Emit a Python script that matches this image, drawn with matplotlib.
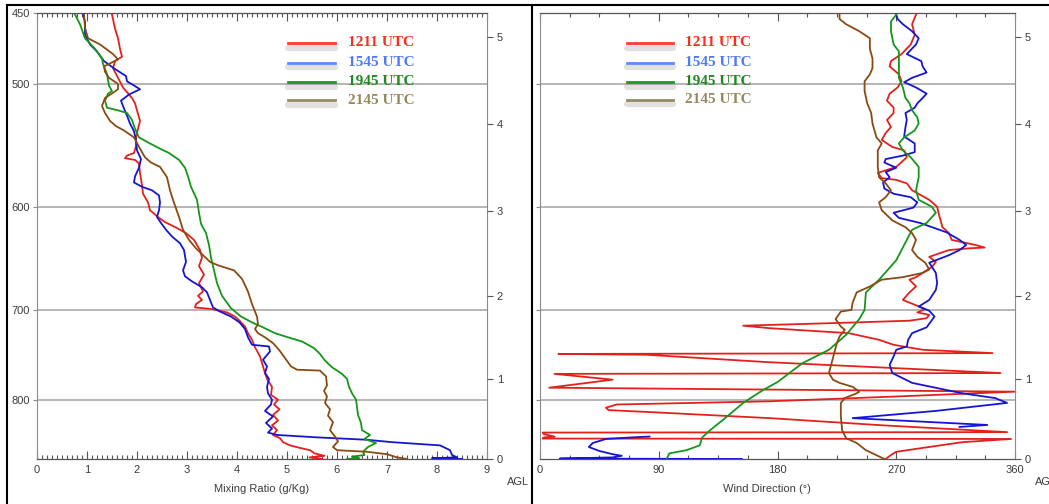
import numpy as np
import matplotlib
matplotlib.use("Agg")
import matplotlib.pyplot as plt
from matplotlib.lines import Line2D
from matplotlib.ticker import FixedLocator, MultipleLocator, NullLocator

# ---------------- data ----------------
SERIES = ["1211 UTC", "1545 UTC", "1945 UTC", "2145 UTC"]

PRESSURE_TICKS = [450, 500, 600, 700, 800]
AGL_KM = [0, 1, 2, 3, 4, 5]
AGL_HPA = [873, 775, 685, 604, 531, 466]

# Mixing ratio profiles (height km AGL, g/kg)
mr_1211_km = [0.00, 0.02, 0.04, 0.07, 0.11, 0.14, 0.17, 0.21, 0.26, 0.30, 0.36, 0.42, 0.48, 0.55, 0.62, 0.68,
              0.74, 0.80, 0.90, 1.00, 1.07, 1.15, 1.27, 1.38, 1.47, 1.55, 1.63, 1.70, 1.75, 1.80, 1.84, 1.86,
              1.90, 1.95, 2.00, 2.05, 2.15, 2.25, 2.35, 2.45, 2.54, 2.60, 2.66, 2.74, 2.80, 2.87, 2.93, 3.01,
              3.10, 3.20, 3.30, 3.44, 3.55, 3.59, 3.61, 3.64, 3.67, 3.75, 3.85, 3.95, 4.04, 4.12, 4.24, 4.30,
              4.42, 4.53, 4.64, 4.72, 4.77, 4.86, 4.98, 5.09, 5.25]
mr_1211 = [5.70, 5.45, 5.75, 5.55, 5.46, 5.25, 5.06, 4.92, 4.86, 4.72, 4.80, 4.70, 4.82, 4.72, 4.85, 4.74,
           4.82, 4.68, 4.70, 4.60, 4.56, 4.52, 4.46, 4.36, 4.30, 4.22, 4.16, 4.05, 3.96, 3.80, 3.50, 3.16,
           3.18, 3.30, 3.22, 3.32, 3.24, 3.34, 3.24, 3.30, 3.26, 3.20, 3.14, 2.98, 2.80, 2.56, 2.42, 2.26,
           2.22, 2.12, 2.10, 2.06, 2.04, 1.96, 1.76, 1.80, 1.94, 1.98, 1.98, 2.02, 2.06, 2.02, 1.96, 1.90,
           1.72, 1.62, 1.52, 1.56, 1.70, 1.66, 1.62, 1.56, 1.50]

mr_1545_km = [0.00, 0.01, 0.02, 0.05, 0.11, 0.17, 0.21, 0.24, 0.27, 0.30, 0.33, 0.38, 0.45, 0.53, 0.60, 0.68,
              0.74, 0.82, 0.90, 1.00, 1.07, 1.15, 1.23, 1.33, 1.39, 1.41, 1.50, 1.60, 1.68, 1.75, 1.81, 1.86,
              1.95, 2.04, 2.10, 2.17, 2.23, 2.30, 2.40, 2.54, 2.62, 2.70, 2.78, 2.86, 2.93, 3.01, 3.10, 3.18,
              3.24, 3.28, 3.33, 3.40, 3.50, 3.60, 3.70, 3.82, 3.92, 4.01, 4.10, 4.18, 4.27, 4.34, 4.40, 4.45,
              4.49, 4.55, 4.63, 4.72, 4.83, 4.91, 5.02, 5.17, 5.25]
mr_1545 = [8.50, 7.90, 8.40, 8.30, 8.26, 8.06, 7.10, 6.60, 5.60, 4.80, 4.62, 4.70, 4.58, 4.72, 4.56, 4.68,
           4.70, 4.62, 4.60, 4.64, 4.56, 4.60, 4.52, 4.66, 4.64, 4.30, 4.22, 4.16, 4.05, 3.88, 3.66, 3.52,
           3.46, 3.40, 3.30, 3.10, 2.96, 2.92, 2.98, 2.94, 2.86, 2.70, 2.58, 2.48, 2.40, 2.44, 2.46, 2.44,
           2.30, 2.10, 1.94, 1.96, 2.04, 2.08, 2.00, 1.98, 1.94, 1.86, 1.80, 1.74, 1.68, 1.84, 2.06, 1.92,
           1.80, 1.78, 1.56, 1.34, 1.20, 1.06, 0.96, 0.96, 0.92]

mr_1945_km = [0.00, 0.01, 0.03, 0.05, 0.09, 0.15, 0.20, 0.25, 0.30, 0.36, 0.45, 0.55, 0.65, 0.74, 0.82, 0.90,
              1.00, 1.06, 1.14, 1.22, 1.30, 1.37, 1.45, 1.50, 1.55, 1.62, 1.68, 1.75, 1.85, 2.00, 2.15, 2.30,
              2.45, 2.60, 2.74, 2.85, 2.98, 3.13, 3.28, 3.40, 3.50, 3.59, 3.67, 3.72, 3.78, 3.85, 3.95, 4.05,
              4.13, 4.16, 4.19, 4.27, 4.35, 4.38, 4.44, 4.57, 4.69, 4.75, 4.86, 4.98, 5.14, 5.25]
mr_1945 = [6.20, 6.45, 6.30, 6.55, 6.52, 6.62, 6.78, 6.55, 6.66, 6.50, 6.48, 6.42, 6.40, 6.38, 6.30, 6.24,
           6.20, 6.10, 5.90, 5.76, 5.66, 5.54, 5.30, 5.02, 4.76, 4.52, 4.30, 4.08, 3.88, 3.70, 3.60, 3.54,
           3.48, 3.44, 3.38, 3.28, 3.24, 3.20, 3.08, 3.02, 2.96, 2.84, 2.64, 2.46, 2.26, 2.04, 1.96, 1.90,
           1.80, 1.62, 1.40, 1.36, 1.42, 1.50, 1.44, 1.40, 1.32, 1.30, 1.16, 0.96, 0.86, 0.76]

mr_2145_km = [0.00, 0.02, 0.06, 0.09, 0.11, 0.15, 0.22, 0.28, 0.36, 0.46, 0.54, 0.62, 0.70, 0.78, 0.85, 0.92,
              1.03, 1.10, 1.11, 1.15, 1.25, 1.35, 1.43, 1.50, 1.55, 1.60, 1.66, 1.75, 1.90, 2.05, 2.20, 2.30,
              2.36, 2.40, 2.48, 2.56, 2.66, 2.78, 2.93, 3.13, 3.24, 3.39, 3.51, 3.56, 3.62, 3.74, 3.85, 3.93,
              3.98, 4.04, 4.13, 4.21, 4.30, 4.36, 4.40, 4.46, 4.53, 4.60, 4.66, 4.74, 4.80, 4.91, 4.98, 5.10, 5.25]
mr_2145 = [7.40, 7.20, 7.00, 6.60, 6.00, 5.92, 6.02, 5.96, 5.86, 5.92, 5.82, 5.86, 5.76, 5.80, 5.74, 5.80,
           5.78, 5.66, 5.20, 5.08, 4.96, 4.84, 4.72, 4.56, 4.42, 4.36, 4.42, 4.40, 4.30, 4.22, 4.10, 3.94,
           3.62, 3.46, 3.32, 3.18, 3.04, 2.92, 2.84, 2.72, 2.66, 2.60, 2.46, 2.28, 2.16, 2.04, 1.94, 1.74,
           1.58, 1.46, 1.36, 1.30, 1.36, 1.52, 1.62, 1.62, 1.44, 1.36, 1.34, 1.62, 1.52, 1.26, 1.02, 0.96, 0.94]

# Wind direction profiles (height km AGL, degrees)
wd_1211_km = [0.00, 0.05, 0.09, 0.15, 0.21, 0.25, 0.255, 0.27, 0.28, 0.31, 0.33, 0.335, 0.42, 0.51, 0.58, 0.61,
              0.64, 0.68, 0.72, 0.78, 0.84, 0.89, 0.99, 1.06, 1.07, 1.20, 1.29, 1.30, 1.31, 1.35, 1.41, 1.47,
              1.55, 1.61, 1.64, 1.67, 1.70, 1.73, 1.77, 1.80, 1.84, 1.95, 2.04, 2.11, 2.19, 2.22, 2.34, 2.40,
              2.46, 2.54, 2.56, 2.57, 2.60, 2.66, 2.74, 2.81, 2.98, 3.05, 3.13, 3.24, 3.32, 3.36, 3.38, 3.44,
              3.47, 3.51, 3.62, 3.70, 3.74, 3.82, 3.90, 3.97, 4.05, 4.13, 4.19, 4.27, 4.35, 4.42, 4.49, 4.57,
              4.66, 4.72, 4.80, 4.91, 5.02, 5.14, 5.25]
wd_1211 = [262, 266, 270, 295, 320, 357, 2, 3, 11, 3, 2, 354, 260, 174, 90, 52,
           50, 58, 174, 270, 360, 7, 55, 11, 349, 174, 81, 14, 343, 290, 268, 257,
           234, 174, 154, 220, 280, 293, 295, 286, 292, 275, 280, 285, 280, 285, 297, 300,
           295, 310, 325, 337, 330, 312, 310, 305, 302, 301, 295, 282, 278, 270, 259, 256,
           262, 270, 278, 276, 267, 259, 262, 266, 263, 268, 268, 263, 265, 271, 274, 272,
           265, 266, 274, 281, 284, 282, 285]

wd_1545_km = [0.00, 0.005, 0.02, 0.04, 0.06, 0.10, 0.15, 0.20, 0.25, 0.27, 0.28, np.nan, 0.40, 0.425, 0.51,
              0.60, 0.70, 0.76, 0.82, 0.95, 1.07, 1.17, 1.27, 1.35, 1.39, 1.47, 1.55, 1.62, 1.75, 1.82, 1.87,
              1.95, 2.07, 2.15, 2.27, 2.39, 2.42, 2.48, 2.54, 2.60, 2.66, 2.75, 2.86, 2.92, 2.98, 3.04, 3.10,
              3.16, 3.20, 3.26, 3.33, 3.39, 3.45, 3.50, 3.56, 3.60, 3.64, 3.68, 3.78, 3.86, 3.97, 4.05, 4.13,
              4.19, 4.24, 4.30, 4.35, 4.42, 4.48, 4.53, 4.59, 4.66, 4.72, 4.80, 4.91, 4.98, 5.06, 5.14, 5.20, 5.25]
wd_1545 = [153, 15, 55, 62, 55, 45, 37, 40, 50, 70, 83, np.nan, 318, 339, 237,
           300, 354, 345, 320, 282, 267, 265, 268, 270, 278, 279, 282, 293, 299, 295, 287,
           295, 300, 301, 300, 295, 300, 310, 318, 323, 318, 308, 288, 272, 268, 283, 286,
           281, 268, 261, 260, 265, 262, 270, 261, 262, 275, 284, 284, 276, 277, 278, 277,
           284, 286, 290, 293, 285, 276, 282, 293, 290, 289, 278, 285, 287, 282, 275, 271, 270]

wd_1945_km = [0.00, 0.07, 0.11, 0.17, 0.27, 0.36, 0.52, 0.70, 0.86, 0.96, 1.19, 1.35, 1.53, 1.72, 1.83, 2.04,
              2.19, 2.42, 2.66, 2.78, 2.86, 2.98, 3.05, 3.13, 3.24, 3.39, 3.51, 3.62, 3.70, 3.78, 3.85, 3.93,
              4.01, 4.08, 4.16, 4.24, 4.30, 4.42, 4.53, 4.69, 4.83, 4.91, 5.06, 5.17, 5.25]
wd_1945 = [96, 98, 111, 121, 123, 129, 141, 154, 169, 180, 199, 219, 232, 242, 246, 247,
           257, 270, 278, 282, 293, 300, 297, 287, 285, 287, 287, 281, 275, 272, 276, 284,
           287, 286, 282, 280, 277, 275, 272, 272, 272, 268, 266, 266, 270]

wd_2145_km = [0.00, 0.11, 0.20, 0.26, 0.36, 0.53, 0.70, 0.76, 0.82, 0.84, 0.90, 0.95, 0.99, 1.07, 1.19, 1.31,
              1.43, 1.51, 1.59, 1.63, 1.72, 1.81, 1.83, 1.92, 2.04, 2.11, 2.19, 2.22, 2.27, 2.31, 2.39, 2.46,
              2.54, 2.66, 2.74, 2.81, 2.89, 3.01, 3.10, 3.16, 3.24, 3.32, 3.39, 3.51, 3.62, 3.70, 3.78, 3.85,
              4.01, 4.13, 4.24, 4.38, 4.49, 4.57, 4.64, 4.75, 4.86, 4.98, 5.06, 5.14, 5.20, 5.25]
wd_2145 = [261, 247, 240, 232, 229, 228, 228, 231, 240, 242, 237, 227, 222, 219, 221, 223,
           225, 227, 231, 228, 224, 228, 236, 237, 240, 250, 259, 275, 290, 295, 292, 286,
           282, 285, 282, 277, 267, 259, 257, 262, 266, 262, 257, 256, 256, 256, 259, 255,
           252, 251, 248, 246, 246, 250, 252, 252, 250, 250, 242, 232, 227, 227]

MR_KM = [mr_1211_km, mr_1545_km, mr_1945_km, mr_2145_km]
MR = [mr_1211, mr_1545, mr_1945, mr_2145]
WD_KM = [wd_1211_km, wd_1545_km, wd_1945_km, wd_2145_km]
WD = [wd_1211, wd_1545, wd_1945, wd_2145]

# ---------------- styles ----------------
LINE_COLORS = ["#e3211c", "#1515d5", "#15961a", "#8a4a12"]
LEG_LINE_COLORS = ["#ff3a35", "#5b8cff", "#1e9a22", "#958a62"]
LEG_TEXT_COLORS = ["#ff2a22", "#4f78ff", "#1d8a20", "#948a62"]
TICK_FONT = ["Liberation Sans Narrow", "Liberation Sans", "DejaVu Sans"]
TICK_COLOR = "#3c3c3c"
GRID_COLOR = "#a9a9a9"
SPINE_COLOR = "#8c8c8c"


def km_to_hpa(h):
    h = np.asarray(h, dtype=float)
    lp = np.log(AGL_HPA)
    out = np.interp(h, AGL_KM, lp)
    slope = (lp[-1] - lp[-2]) / (AGL_KM[-1] - AGL_KM[-2])
    top = h > AGL_KM[-1]
    out[top] = lp[-1] + slope * (h[top] - AGL_KM[-1])
    out[np.isnan(h)] = np.nan
    return np.exp(out)


W, H = 1049, 504
fig = plt.figure(figsize=(W / 100, H / 100), dpi=100)


def rect(x0, x1, y0, y1):
    return [x0 / W, 1 - y1 / H, (x1 - x0) / W, (y1 - y0) / H]


P_BOTTOM, P_TOP = 873, 450


def setup_axes(ax, xlim, major, minor, pressure_labels):
    ax.set_yscale("log")
    ax.set_ylim(P_BOTTOM, P_TOP)
    ax.set_xlim(*xlim)
    for p in PRESSURE_TICKS[1:]:
        ax.axhline(p, color=GRID_COLOR, lw=1.2, zorder=0)
    ax.yaxis.set_major_locator(FixedLocator(PRESSURE_TICKS if pressure_labels else PRESSURE_TICKS[1:]))
    ax.yaxis.set_minor_locator(NullLocator())
    if pressure_labels:
        ax.set_yticklabels([str(p) for p in PRESSURE_TICKS], fontfamily=TICK_FONT, fontsize=8, color=TICK_COLOR)
    else:
        ax.set_yticklabels([])
    ax.tick_params(axis="y", which="major", direction="out", length=3, width=0.8, color=SPINE_COLOR, pad=2)
    ax.xaxis.set_major_locator(MultipleLocator(major))
    ax.xaxis.set_minor_locator(MultipleLocator(minor))
    ax.tick_params(axis="x", which="both", direction="in", top=True, bottom=True, color="#555555", width=0.8)
    ax.tick_params(axis="x", which="major", length=6, labelsize=8, labelcolor=TICK_COLOR, pad=4)
    ax.tick_params(axis="x", which="minor", length=3)
    for lab in ax.get_xticklabels():
        lab.set_fontfamily(TICK_FONT)
    for s in ["left", "right"]:
        ax.spines[s].set_color(SPINE_COLOR)
        ax.spines[s].set_linewidth(0.8)
    for s in ["top", "bottom"]:
        ax.spines[s].set_color("#555555")
        ax.spines[s].set_linewidth(0.9)

    tw = ax.twinx()
    tw.set_yscale("log")
    tw.set_ylim(P_BOTTOM, P_TOP)
    tw.yaxis.set_major_locator(FixedLocator(AGL_HPA))
    tw.yaxis.set_minor_locator(NullLocator())
    tw.set_yticklabels([str(k) for k in AGL_KM], fontfamily=TICK_FONT, fontsize=8, color=TICK_COLOR)
    tw.tick_params(axis="y", direction="out", length=4, width=0.8, color="#555555", pad=3)
    for s in tw.spines.values():
        s.set_visible(False)
    return tw


def draw_legend(ax, x0, x1, xt, ys):
    for name, lc, tc, y in zip(SERIES, LEG_LINE_COLORS, LEG_TEXT_COLORS, ys):
        ax.plot([x0, x1], [y - 0.011, y - 0.011], transform=ax.transAxes, color="#777777",
                alpha=0.22, lw=4.5, solid_capstyle="round", zorder=5, clip_on=False)
        ax.plot([x0, x1], [y, y], transform=ax.transAxes, color=lc, lw=2.0, zorder=6, clip_on=False)
        ax.text(xt, y, name, transform=ax.transAxes, color=tc, fontsize=11, fontweight="bold",
                family="Liberation Serif", va="center", ha="left", zorder=7)


# ---------- left panel: mixing ratio ----------
axL = fig.add_axes(rect(37, 487, 13, 459))
setup_axes(axL, (0, 9), 1, 0.1, True)
axL.set_xticks(range(0, 10))
for km, v, c in zip(MR_KM, MR, LINE_COLORS):
    axL.plot(v, km_to_hpa(km), color=c, lw=1.3, zorder=3)
draw_legend(axL, 0.558, 0.662, 0.691, [0.933, 0.889, 0.846, 0.804])

# ---------- right panel: wind direction ----------
axR = fig.add_axes(rect(540, 1015, 13, 459))
setup_axes(axR, (0, 360), 90, 22.5, False)
axR.set_xticks([0, 90, 180, 270, 360])
for km, v, c in zip(WD_KM, WD, LINE_COLORS):
    axR.plot(v, km_to_hpa(km), color=c, lw=1.3, zorder=3)
draw_legend(axR, 0.183, 0.280, 0.305, [0.933, 0.889, 0.846, 0.806])

for ax in (axL, axR):
    for lab in ax.get_xticklabels():
        lab.set_fontfamily(TICK_FONT)

# axis titles
fig.text(262 / W, 1 - 489 / H, "Mixing Ratio (g/Kg)", ha="center", va="center", fontsize=8,
         color=TICK_COLOR, family=TICK_FONT)
fig.text(507 / W, 1 - 482 / H, "AGL", ha="left", va="center", fontsize=8, color=TICK_COLOR, family=TICK_FONT)
fig.text(767 / W, 1 - 489 / H, "Wind Direction (°)", ha="center", va="center", fontsize=8,
         color=TICK_COLOR, family=TICK_FONT)
fig.text(1035 / W, 1 - 482 / H, "AGL", ha="left", va="center", fontsize=8, color=TICK_COLOR, family=TICK_FONT)

# screenshot frame lines
frame_kw = dict(color="black", lw=1.5, transform=fig.transFigure)
fig.add_artist(Line2D([7 / W, 1], [1 - 5 / H, 1 - 5 / H], **frame_kw))
fig.add_artist(Line2D([7 / W, 7 / W], [0, 1 - 5 / H], **frame_kw))
fig.add_artist(Line2D([532 / W, 532 / W], [0, 1 - 5 / H], **frame_kw))

fig.savefig("out.png", dpi=100)
